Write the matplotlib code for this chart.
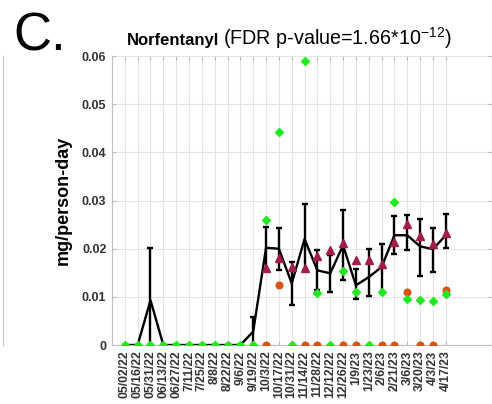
import numpy as np
import matplotlib
matplotlib.use("Agg")
import matplotlib.pyplot as plt
from matplotlib.lines import Line2D

plt.rcParams['font.family'] = ['Liberation Sans', 'DejaVu Sans']
plt.rcParams['mathtext.fontset'] = 'custom'
plt.rcParams['mathtext.rm'] = 'Liberation Sans'
plt.rcParams['mathtext.bf'] = 'Liberation Sans:bold'

dates = ['05/02/22', '05/16/22', '05/31/22', '06/13/22', '06/27/22', '7/11/22',
         '7/25/22', '8/8/22', '8/22/22', '9/6/22', '9/19/22', '10/3/22',
         '10/17/22', '10/31/22', '11/14/22', '11/28/22', '12/12/22', '12/26/22',
         '1/9/23', '1/23/23', '2/6/23', '2/21/23', '3/6/23', '3/20/23',
         '4/3/23', '4/17/23']

nan = np.nan
# mean across sites with error bar bounds
mean = [0, 0, 0.0093, 0, 0, 0, 0, 0, 0, 0, 0.0028, 0.0202, 0.0200, 0.0128,
        0.0220, 0.0155, 0.0149, 0.0207, 0.0124, 0.0141, 0.0162, 0.0228,
        0.0228, 0.0205, 0.0199, 0.0228]
err_top = [0, 0, 0.0202, 0, 0, 0, 0, 0, 0, 0, 0.0059, 0.0245, 0.0244, 0.0173,
           0.0293, 0.0197, 0.0186, 0.0281, 0.0157, 0.0200, 0.0210, 0.0267,
           0.0271, 0.0261, 0.0244, 0.0273]
err_bot = [0, 0, 0, 0, 0, 0, 0, 0, 0, 0, 0, 0.0158, 0.0155, 0.0083,
           0.0155, 0.0114, 0.0111, 0.0135, 0.0095, 0.0101, 0.0110, 0.0190,
           0.0197, 0.0143, 0.0152, 0.0202]

site_tri = [nan] * 11 + [0.0161, 0.0181, 0.0162, 0.0160, 0.0184, 0.0197, 0.0211,
                         0.0177, 0.0176, 0.0169, 0.0214, 0.0251, 0.0226, 0.0209,
                         0.0233]
site_circ = [nan] * 11 + [0, 0.0124, nan, 0, 0, nan, 0, 0, nan, 0, 0, 0.0110,
                          0, 0, 0.0115]
site_dia = [0] * 11 + [0.0259, 0.0443, 0, 0.0590, 0.0108, 0, 0.0153, 0.0110, 0,
                       0.0110, 0.0297, 0.0096, 0.0093, 0.0092, 0.0106]

x = np.arange(len(dates))
mean = np.array(mean)
yerr = [mean - np.array(err_bot), np.array(err_top) - mean]

fig = plt.figure(figsize=(4.92, 4.04), dpi=100)
ax = fig.add_axes([0.2276, 0.146, 0.7724, 0.715])

ax.errorbar(x, mean, yerr=yerr, color='black', lw=1.7, elinewidth=1.7,
            capsize=2.3, capthick=1.7, zorder=3)
ax.plot(x, site_tri, '^', color='#a31d4b', ms=5.5, zorder=4)
ax.plot(x, site_circ, 'o', color='#d95319', ms=4.8, zorder=4)
ax.plot(x, site_dia, 'D', color='#22e822', ms=4, zorder=5)

ax.set_xlim(-1.0, 28.6)
ax.set_ylim(0, 0.06)
ax.set_xticks(x)
ax.set_xticklabels(dates, rotation=90, fontsize=8.8, fontweight='bold')
ax.set_yticks([0, 0.01, 0.02, 0.03, 0.04, 0.05, 0.06])
ax.set_yticklabels(['0', '0.01', '0.02', '0.03', '0.04', '0.05', '0.06'],
                   fontsize=9, fontweight='bold', color='#333333')
for lab in ax.get_xticklabels():
    lab.set_color('#333333')
ax.tick_params(direction='in', length=3, color='#bbbbbb', top=True, right=True,
               pad=4)
ax.grid(True, color='#e4e4e4', lw=0.8)
ax.set_axisbelow(True)
for s in ax.spines.values():
    s.set_color('#c0c0c0')
    s.set_linewidth(0.8)
ax.spines['top'].set_visible(False)

ax.set_ylabel('mg/person-day', fontsize=13, fontweight='bold')
ax.yaxis.set_label_coords(-0.105, 0.5)

# title in two parts: bold compound name, regular p-value
fig.text(0.258, 0.888, 'Norfentanyl', fontsize=12, fontweight='bold',
         va='baseline')
fig.text(0.453, 0.888, r'(FDR p-value=1.66*10$^{-12}$)', fontsize=14.2,
         va='baseline')

fig.text(0.028, 0.876, 'C.', fontsize=38)
# edge of neighbouring panel
fig.add_artist(Line2D([0.007, 0.007], [0.146, 0.861], color='#c8c8c8', lw=0.8))

fig.savefig('out.png', dpi=100)
